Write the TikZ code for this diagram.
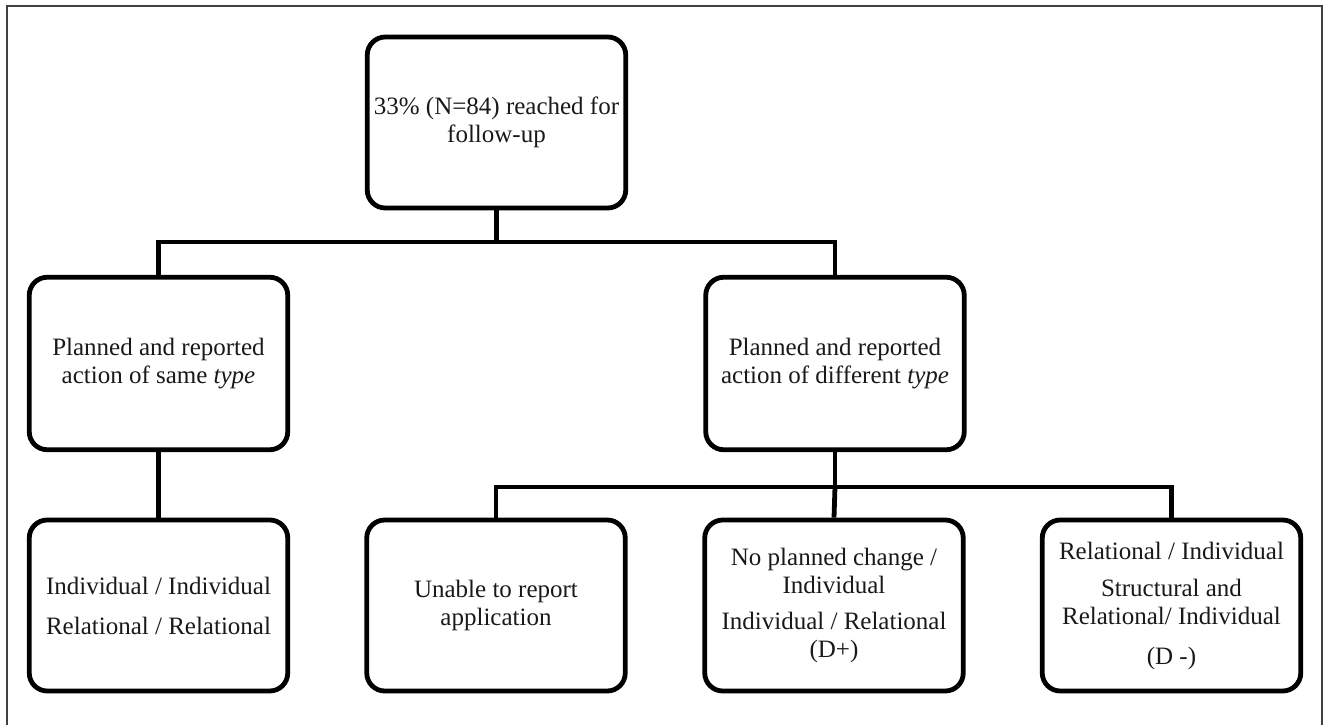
\documentclass[tikz,border=0pt]{standalone}
\usepackage{fontspec}
\setmainfont{Liberation Serif}
\begin{document}
\begin{tikzpicture}[x=1pt,y=-1pt,
  box/.style={draw=black, line width=4.8pt, rounded corners=18pt,
    minimum width=258.5pt, minimum height=171pt, align=center,
    inner sep=0pt, font=\fontsize{25}{28}\selectfont, text=black!90},
  link/.style={draw=black, line width=4.8pt},
  frame/.style={draw=black!75, line width=2pt}]
\useasboundingbox (0,0) rectangle (1331,725);
\draw[frame] (6.5,725) -- (6.5,6.5) -- (1321.5,6.5) -- (1321.5,725);

\node[box] (top) at (496.5,122.5) {\raisebox{-5pt}{\parbox{250pt}{\centering 33\% (N=84) reached for\\follow-up}}};
\node[box, minimum height=172.5pt] (same) at (158.5,363.5) {Planned and reported\\action of same \textit{type}};
\node[box, minimum height=172.5pt] (diff) at (835,363.5) {Planned and reported\\action of different \textit{type}};

\node[box] (ii) at (158.5,605.5) {Individual / Individual\\[12pt]Relational / Relational};
\node[box] (unable) at (496,605.5) {Unable to report\\application};
\node[box] (noplan) at (834,605.5) {No planned change /\\Individual\\[8pt]Individual / Relational\\(D+)};
\node[box] (rel) at (1171.5,605.5) {Relational / Individual\\[9pt]Structural and\\Relational/ Individual\\[12pt](D -)};

\coordinate (j1) at (496.5,242);
\coordinate (j1l) at (158.5,242);
\coordinate (j1r) at (835,242);
\coordinate (j2) at (835,487);
\coordinate (j2l) at (496,487);
\coordinate (j2r) at (1171.5,487);

\draw[link] (top.south) -- (j1);
\draw[link] (same.north) -- (j1l) -- (j1r) -- (diff.north);
\draw[link] (same.south) -- (ii.north);
\draw[link] (diff.south) -- (j2);
\draw[link] (unable.north) -- (j2l) -- (j2r) -- (rel.north);
\draw[link] (j2) -- (noplan.north);
\end{tikzpicture}
\end{document}
